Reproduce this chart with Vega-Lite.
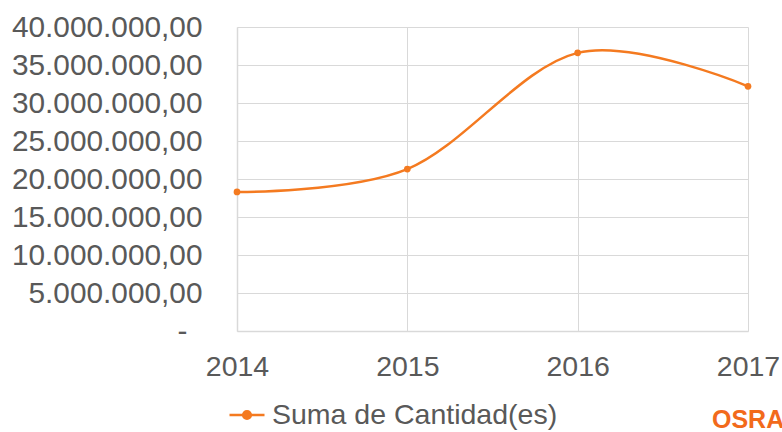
{
  "$schema": "https://vega.github.io/schema/vega-lite/v6.json",
  "width": 511,
  "height": 304,
  "autosize": {"type": "none"},
  "padding": {"left": 237, "top": 27, "right": 34, "bottom": 101},
  "background": "white",
  "config": {
    "locale": {"number": {"decimal": ",", "thousands": ".", "grouping": [3], "currency": ["", " €"]}},
    "font": "Liberation Sans",
    "view": {"stroke": null}
  },
  "title": {
    "text": "OSRAM",
    "orient": "bottom",
    "anchor": "end",
    "frame": "group",
    "align": "left",
    "dx": -36,
    "offset": -22,
    "fontSize": 25,
    "fontWeight": "bold",
    "color": "#F26A1B",
    "font": "Liberation Sans"
  },
  "data": {
    "values": [
      {"year": "2014", "value": 18300000, "series": "Suma de Cantidad(es)"},
      {"year": "2015", "value": 21300000, "series": "Suma de Cantidad(es)"},
      {"year": "2016", "value": 36600000, "series": "Suma de Cantidad(es)"},
      {"year": "2017", "value": 32200000, "series": "Suma de Cantidad(es)"}
    ]
  },
  "mark": {
    "type": "line",
    "interpolate": "cardinal",
    "tension": 0,
    "strokeWidth": 2.5,
    "point": {"filled": true, "size": 45}
  },
  "encoding": {
    "x": {
      "field": "year",
      "type": "ordinal",
      "scale": {"type": "point", "padding": 0},
      "axis": {
        "title": null,
        "labelAngle": 0,
        "labelFontSize": 28.5,
        "labelColor": "#595959",
        "labelPadding": 21,
        "ticks": false,
        "grid": true,
        "gridColor": "#D9D9D9",
        "domainColor": "#D9D9D9",
        "domainWidth": 1.5
      }
    },
    "y": {
      "field": "value",
      "type": "quantitative",
      "scale": {"domain": [0, 40000000], "nice": false},
      "axis": {
        "title": null,
        "values": [0, 5000000, 10000000, 15000000, 20000000, 25000000, 30000000, 35000000, 40000000],
        "format": ",.2f",
        "labelExpr": "datum.value == 0 ? '-' : datum.label",
        "labelFontSize": 29.8,
        "labelColor": "#595959",
        "labelPadding": {"condition": {"test": "datum.value == 0", "value": 50}, "value": 35},
        "labelLimit": 0,
        "ticks": false,
        "grid": true,
        "gridColor": "#D9D9D9",
        "domainColor": "#D9D9D9",
        "domainWidth": 1.5
      }
    },
    "color": {
      "field": "series",
      "type": "nominal",
      "scale": {"range": ["#F47A20"]},
      "legend": {
        "title": null,
        "orient": "none",
        "legendX": -9,
        "legendY": 369,
        "labelFontSize": 28.5,
        "labelColor": "#595959",
        "labelOffset": 6,
        "labelLimit": 0,
        "symbolType": "M-1,0H1M0.22,0A0.22,0.22 0 1 1 -0.22,0A0.22,0.22 0 1 1 0.22,0Z",
        "symbolSize": 1225,
        "symbolStrokeWidth": 2.5,
        "symbolFillColor": "#F47A20",
        "symbolStrokeColor": "#F47A20"
      }
    }
  }
}
